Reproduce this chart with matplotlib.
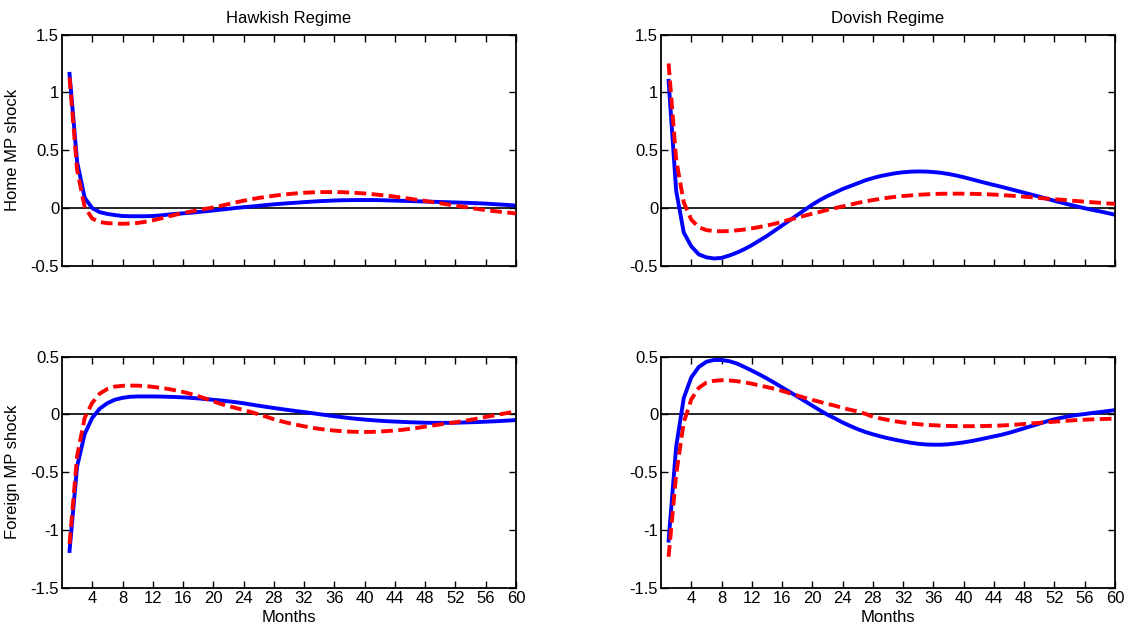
import numpy as np
import matplotlib
matplotlib.use('Agg')
import matplotlib.pyplot as plt

plt.rcParams['font.family'] = ['Liberation Sans', 'DejaVu Sans']

# months 1..60
months = np.arange(1, 61)

# Home MP shock, hawkish regime
home_hawk_blue = [1.16, 0.40, 0.09, 0.00, -0.035, -0.05, -0.06, -0.068, -0.07, -0.07,
                  -0.07, -0.068, -0.063, -0.056, -0.05, -0.045, -0.04, -0.033, -0.027, -0.02,
                  -0.013, -0.006, 0.002, 0.008, 0.014, 0.02, 0.027, 0.033, 0.038, 0.043,
                  0.047, 0.052, 0.056, 0.06, 0.063, 0.066, 0.068, 0.069, 0.07, 0.07,
                  0.07, 0.069, 0.067, 0.065, 0.063, 0.061, 0.059, 0.057, 0.055, 0.053,
                  0.051, 0.049, 0.047, 0.045, 0.042, 0.039, 0.035, 0.031, 0.027, 0.022]
home_hawk_red = [1.13, 0.33, 0.01, -0.09, -0.12, -0.13, -0.133, -0.135, -0.133, -0.128,
                 -0.118, -0.105, -0.09, -0.073, -0.057, -0.043, -0.03, -0.018, -0.006, 0.006,
                 0.02, 0.035, 0.05, 0.064, 0.077, 0.088, 0.098, 0.107, 0.115, 0.122,
                 0.128, 0.133, 0.136, 0.138, 0.139, 0.139, 0.138, 0.135, 0.131, 0.127,
                 0.121, 0.114, 0.107, 0.099, 0.09, 0.081, 0.071, 0.062, 0.052, 0.042,
                 0.032, 0.022, 0.012, 0.002, -0.008, -0.017, -0.025, -0.032, -0.039, -0.046]

# Home MP shock, dovish regime
home_dov_blue = [1.10, 0.15, -0.21, -0.33, -0.40, -0.425, -0.435, -0.43, -0.41, -0.385,
                 -0.355, -0.32, -0.28, -0.24, -0.195, -0.15, -0.105, -0.06, -0.015, 0.03,
                 0.07, 0.105, 0.135, 0.165, 0.19, 0.215, 0.24, 0.26, 0.277, 0.29,
                 0.302, 0.31, 0.315, 0.317, 0.316, 0.312, 0.305, 0.295, 0.282, 0.267,
                 0.25, 0.233, 0.216, 0.2, 0.184, 0.167, 0.15, 0.133, 0.116, 0.099,
                 0.081, 0.063, 0.046, 0.03, 0.014, -0.001, -0.015, -0.028, -0.042, -0.057]
home_dov_red = [1.25, 0.42, 0.05, -0.10, -0.165, -0.19, -0.198, -0.2, -0.198, -0.192,
                -0.185, -0.175, -0.163, -0.15, -0.135, -0.118, -0.1, -0.083, -0.065, -0.048,
                -0.032, -0.015, 0.0, 0.015, 0.03, 0.045, 0.058, 0.07, 0.08, 0.09,
                0.098, 0.105, 0.11, 0.115, 0.119, 0.122, 0.124, 0.125, 0.125, 0.125,
                0.124, 0.122, 0.12, 0.117, 0.113, 0.109, 0.104, 0.099, 0.094, 0.088,
                0.082, 0.077, 0.072, 0.066, 0.061, 0.056, 0.051, 0.046, 0.041, 0.037]

# Foreign MP shock, hawkish regime
for_hawk_blue = [-1.18, -0.45, -0.17, -0.03, 0.05, 0.097, 0.127, 0.143, 0.152, 0.155,
                 0.155, 0.155, 0.154, 0.152, 0.15, 0.147, 0.143, 0.138, 0.132, 0.126,
                 0.12, 0.113, 0.105, 0.096, 0.085, 0.075, 0.065, 0.055, 0.046, 0.037,
                 0.028, 0.02, 0.011, 0.002, -0.007, -0.016, -0.024, -0.032, -0.039, -0.045,
                 -0.05, -0.055, -0.059, -0.062, -0.065, -0.068, -0.07, -0.072, -0.073, -0.073,
                 -0.073, -0.072, -0.07, -0.068, -0.066, -0.063, -0.06, -0.057, -0.053, -0.049]
for_hawk_red = [-1.12, -0.36, -0.03, 0.1, 0.18, 0.22, 0.24, 0.247, 0.249, 0.248,
                0.245, 0.238, 0.23, 0.22, 0.208, 0.194, 0.177, 0.158, 0.136, 0.113,
                0.09, 0.072, 0.055, 0.038, 0.02, 0.0, -0.02, -0.042, -0.06, -0.076,
                -0.09, -0.103, -0.115, -0.125, -0.133, -0.14, -0.145, -0.149, -0.151, -0.152,
                -0.151, -0.148, -0.144, -0.139, -0.133, -0.125, -0.116, -0.106, -0.096, -0.086,
                -0.077, -0.068, -0.058, -0.047, -0.035, -0.022, -0.01, 0.002, 0.014, 0.026]

# Foreign MP shock, dovish regime
for_dov_blue = [-1.09, -0.28, 0.14, 0.32, 0.41, 0.455, 0.47, 0.47, 0.46, 0.44,
                0.41, 0.378, 0.345, 0.31, 0.272, 0.233, 0.194, 0.155, 0.115, 0.075,
                0.035, -0.003, -0.035, -0.07, -0.1, -0.128, -0.152, -0.172, -0.19, -0.206,
                -0.22, -0.233, -0.245, -0.254, -0.26, -0.262, -0.262, -0.258, -0.251, -0.242,
                -0.231, -0.218, -0.204, -0.19, -0.176, -0.159, -0.14, -0.12, -0.1, -0.08,
                -0.06, -0.042, -0.028, -0.015, -0.005, 0.003, 0.012, 0.02, 0.028, 0.037]
for_dov_red = [-1.23, -0.52, -0.07, 0.13, 0.23, 0.275, 0.29, 0.295, 0.293, 0.287,
               0.278, 0.265, 0.25, 0.236, 0.221, 0.203, 0.183, 0.163, 0.143, 0.125,
               0.108, 0.09, 0.075, 0.055, 0.04, 0.025, 0.005, -0.02, -0.035, -0.048,
               -0.06, -0.07, -0.078, -0.085, -0.09, -0.094, -0.097, -0.1, -0.101, -0.102,
               -0.102, -0.101, -0.1, -0.098, -0.096, -0.092, -0.088, -0.083, -0.078, -0.073,
               -0.068, -0.063, -0.058, -0.053, -0.049, -0.046, -0.043, -0.041, -0.039, -0.037]

xticks = list(range(4, 61, 4))
top_yticks = [-0.5, 0, 0.5, 1, 1.5]
top_ylabels = ['-0.5', '0', '0.5', '1', '1.5']
bot_yticks = [-1.5, -1, -0.5, 0, 0.5]
bot_ylabels = ['-1.5', '-1', '-0.5', '0', '0.5']

fig = plt.figure(figsize=(11.35, 6.29), dpi=100)

left_x, right_x, w = 0.0546, 0.5824, 0.400
top_y, bot_y, h = 0.5771, 0.0652, 0.368

panels = [
    ([left_x, top_y, w, h], home_hawk_blue, home_hawk_red, True),
    ([right_x, top_y, w, h], home_dov_blue, home_dov_red, True),
    ([left_x, bot_y, w, h], for_hawk_blue, for_hawk_red, False),
    ([right_x, bot_y, w, h], for_dov_blue, for_dov_red, False),
]

axes = []
for pos, blue, red, top in panels:
    ax = fig.add_axes(pos)
    ax.axhline(0, color='black', lw=1.2, zorder=1)
    ax.plot(months, blue, color='#0000ff', lw=2.8, zorder=2)
    ax.plot(months, red, color='#ff0000', lw=2.8, dashes=(3.0, 1.4), zorder=3)
    ax.set_xlim(0, 60)
    ax.set_xticks(xticks)
    if top:
        ax.set_ylim(-0.5, 1.5)
        ax.set_yticks(top_yticks)
        ax.set_yticklabels(top_ylabels)
        ax.set_xticklabels([])
    else:
        ax.set_ylim(-1.5, 0.5)
        ax.set_yticks(bot_yticks)
        ax.set_yticklabels(bot_ylabels)
        ax.set_xticklabels([str(t) for t in xticks])
        ax.set_xlabel('Months', fontsize=12, labelpad=3)
    ax.tick_params(direction='in', top=True, right=True, length=5, width=1,
                   labelsize=12, pad=2)
    for s in ax.spines.values():
        s.set_linewidth(1.3)
    axes.append(ax)

axes[0].set_title('Hawkish Regime', fontsize=12, pad=8)
axes[1].set_title('Dovish Regime', fontsize=12, pad=8)
axes[0].set_ylabel('Home MP shock', fontsize=12, labelpad=8)
axes[2].set_ylabel('Foreign MP shock', fontsize=12, labelpad=8)

fig.savefig('out.png', dpi=100)
